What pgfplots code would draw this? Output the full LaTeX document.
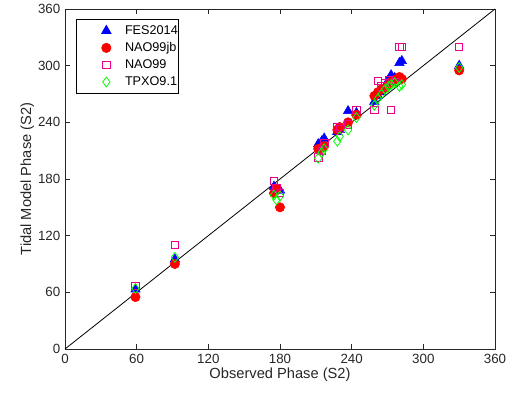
\documentclass[border=0pt]{standalone}
\usepackage{pgfplots}
\pgfplotsset{compat=1.18}
\usepackage{fontspec}
\setmainfont{Liberation Sans}
\definecolor{mgray}{rgb}{0.15,0.15,0.15}
\definecolor{mgreen}{rgb}{0,1,0}
\begin{document}
\begin{tikzpicture}
\path[use as bounding box] (-48.75pt,-35.25pt) rectangle (335.25pt,261.75pt);
\begin{axis}[
  scale only axis,
  width=322.5pt, height=255pt,
  xmin=0, xmax=360, ymin=0, ymax=360,
  xtick={0,60,...,360}, ytick={0,60,...,360},
  tick align=inside,
  major tick length=4pt,
  axis line style={mgray, line width=0.5pt},
  every tick/.style={mgray, line width=0.5pt},
  tick label style={font=\fontsize{10}{12}\selectfont, text=mgray},
  /pgf/number format/assume math mode=true,
  xlabel={Observed Phase (S2)},
  ylabel={Tidal Model Phase (S2)},
  label style={font=\fontsize{11}{13}\selectfont, text=mgray},
  xlabel style={yshift=3pt},
  ylabel style={yshift=-4pt},
  legend style={at={(0.0256,0.9706)}, anchor=north west, draw=black, line width=0.5pt,
    font=\fontsize{9.5}{11}\selectfont, row sep=0.6pt, inner xsep=5pt, inner ysep=2.5pt,
    text width=33pt},
  legend image code/.code={
    \path[draw=none, fill=none] (-5.5pt,-2pt) rectangle (24pt,2pt);
    \draw[#1] plot[only marks] coordinates {(12pt,0pt)};
  },
  legend cell align=left,
  clip=false,
]
\addplot[black, line width=0.6pt, forget plot] coordinates {(0,0) (360,360)};
\addplot[only marks, mark=triangle*, mark size=4.1pt, color=blue, fill=blue] coordinates {
(59,63) (92,95) (175,172) (177,168) (180,168) (212,217) (215,220) (217,223)
(228,230) (230,232) (237,252) (244,250) (259,262) (262,268) (265,272) (268,278)
(271,285) (273,290) (276,287) (280,303) (282,305) (330,300)};
\addlegendentry{FES2014}
\addplot[only marks, mark=*, mark size=3.5pt, color=red, fill=red] coordinates {
(59,55) (92,90) (175,165) (177,170) (180,150) (212,212) (215,213) (217,215)
(228,232) (230,235) (237,240) (244,248) (259,268) (262,272) (265,275) (268,276)
(271,280) (273,283) (276,285) (280,288) (282,286) (330,295)};
\addlegendentry{NAO99jb}
\addplot[only marks, mark=square, mark size=2.8pt, color=magenta, line width=0.6pt] coordinates {
(59,67) (92,110) (175,178) (177,170) (180,165) (212,203) (215,210) (217,218)
(228,235) (230,233) (237,238) (244,253) (259,253) (262,284) (265,278) (268,282)
(271,285) (273,253) (276,283) (280,320) (282,320) (330,320)};
\addlegendentry{NAO99}
\addplot[only marks, mark=diamond, mark size=3.7pt, color=mgreen, line width=0.6pt] coordinates {
(59,64) (92,97) (175,163) (177,158) (180,162) (212,202) (215,208) (217,212)
(228,220) (230,225) (237,232) (244,245) (259,258) (262,265) (265,270) (268,275)
(271,278) (273,280) (276,282) (280,278) (282,280) (330,298)};
\addlegendentry{TPXO9.1}
\end{axis}
\end{tikzpicture}
\end{document}
